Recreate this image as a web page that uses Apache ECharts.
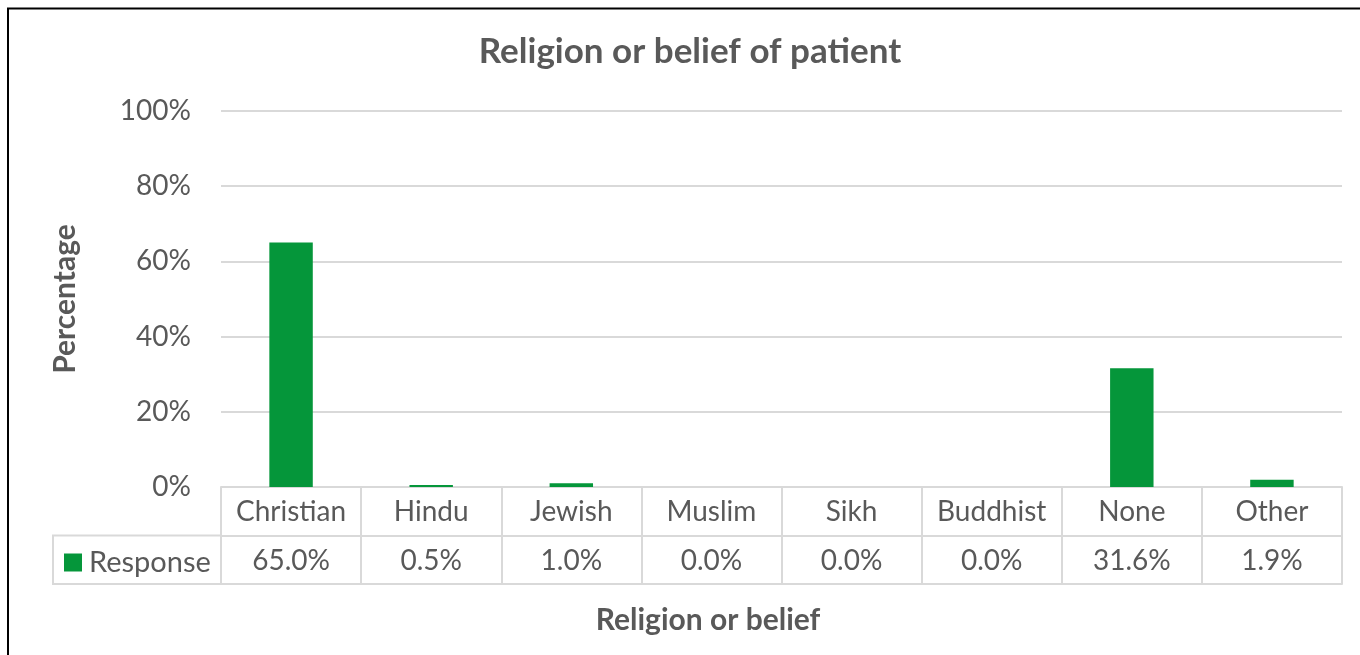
<!DOCTYPE html>
<html>
<head>
<meta charset="utf-8">
<script src="https://cdn.jsdelivr.net/npm/echarts@6/dist/echarts.min.js"></script>
<style>
  html, body { margin: 0; padding: 0; background: #fff; }
  #chart { width: 1360px; height: 655px; }
</style>
</head>
<body>
<div id="chart"></div>
<script>
// Religion or belief of patient: share of responses per group (%)
const categories = ['Christian', 'Hindu', 'Jewish', 'Muslim', 'Sikh', 'Buddhist', 'None', 'Other'];
const responseValues = [65.0, 0.5, 1.0, 0.0, 0.0, 0.0, 31.6, 1.9];
const seriesName = 'Response';
const yTicks = [0, 20, 40, 60, 80, 100];

const FONT = 'Lato, "Open Sans", sans-serif';
const TEXT = '#595959';
const GRID = '#d9d9d9';
const GREEN = '#05963A';

// plot area in pixels
const G = { left: 221, right: 18, top: 111, bottom: 168 };
const ROW = 48.5;           // height of one data-table row
const LEGEND_CELL_LEFT = 53; // left edge of the series-name cell

const chart = echarts.init(document.getElementById('chart'), null, { renderer: 'canvas' });

const option = {
  backgroundColor: '#fff',
  animation: false,
  textStyle: { fontFamily: FONT },
  grid: { left: G.left, right: G.right, top: G.top, bottom: G.bottom, containLabel: false },
  legend: {
    data: [seriesName],
    left: 59, top: 543,
    itemWidth: 18, itemHeight: 18, itemGap: 0,
    icon: 'rect',
    textStyle: { color: TEXT, fontSize: 29, fontFamily: FONT, padding: [0, 0, 0, 2] },
    selectedMode: false
  },
  xAxis: [
    {
      // category row of the data table
      type: 'category',
      data: categories,
      position: 'bottom',
      axisLine: { show: true, lineStyle: { color: GRID, width: 2 } },
      axisTick: { show: true, alignWithLabel: false, interval: 0, length: ROW * 2, lineStyle: { color: GRID, width: 2 } },
      axisLabel: { color: TEXT, fontSize: 28, fontFamily: FONT, margin: 11, interval: 0 },
      splitLine: { show: false }
    },
    {
      // value row of the data table
      type: 'category',
      data: categories,
      position: 'bottom',
      offset: ROW,
      axisLine: { show: true, lineStyle: { color: GRID, width: 2 } },
      axisTick: { show: false },
      axisLabel: {
        color: TEXT, fontSize: 28, fontFamily: FONT, margin: 11, interval: 0,
        formatter: (v, i) => responseValues[i].toFixed(1) + '%'
      },
      splitLine: { show: false }
    },
    {
      // bottom edge of the data table
      type: 'category',
      data: categories,
      position: 'bottom',
      offset: ROW * 2,
      axisLine: { show: true, lineStyle: { color: GRID, width: 2 } },
      axisTick: { show: false },
      axisLabel: { show: false }
    }
  ],
  yAxis: {
    type: 'value',
    min: 0, max: 100, interval: 20,
    axisLine: { show: false },
    axisTick: { show: false },
    splitLine: { show: true, lineStyle: { color: GRID, width: 2 } },
    axisLabel: { color: TEXT, fontSize: 28, fontFamily: FONT, margin: 30, formatter: '{value}%' },
    name: 'Percentage',
    nameLocation: 'middle',
    nameGap: 141,
    nameRotate: 90,
    nameTextStyle: { color: TEXT, fontSize: 30, fontWeight: 'bold', fontFamily: FONT }
  },
  series: [{
    name: seriesName,
    type: 'bar',
    xAxisIndex: 0,
    data: responseValues,
    barWidth: '31%',
    itemStyle: { color: GREEN }
  }]
};

chart.setOption(option);

// legend cell of the data table, chart title, axis title and frame
const plotBottom = 655 - G.bottom;
chart.setOption({
  graphic: [
    {
      type: 'polyline',
      shape: { points: [[G.left, plotBottom + ROW], [LEGEND_CELL_LEFT, plotBottom + ROW], [LEGEND_CELL_LEFT, plotBottom + ROW * 2], [G.left, plotBottom + ROW * 2]] },
      style: { stroke: GRID, lineWidth: 2, fill: null }
    },
    {
      type: 'text', x: 690, y: 52,
      style: { text: 'Religion or belief of patient', fill: TEXT, font: 'bold 35px ' + FONT, textAlign: 'center', textVerticalAlign: 'middle' }
    },
    {
      type: 'text', x: 708, y: 620,
      style: { text: 'Religion or belief', fill: TEXT, font: 'bold 30px ' + FONT, textAlign: 'center', textVerticalAlign: 'middle' }
    },
    {
      type: 'polyline',
      shape: { points: [[8, 655], [8, 8.5], [1360, 8.5]] },
      style: { stroke: '#000', lineWidth: 2, fill: null }
    }
  ]
});
</script>
</body>
</html>
